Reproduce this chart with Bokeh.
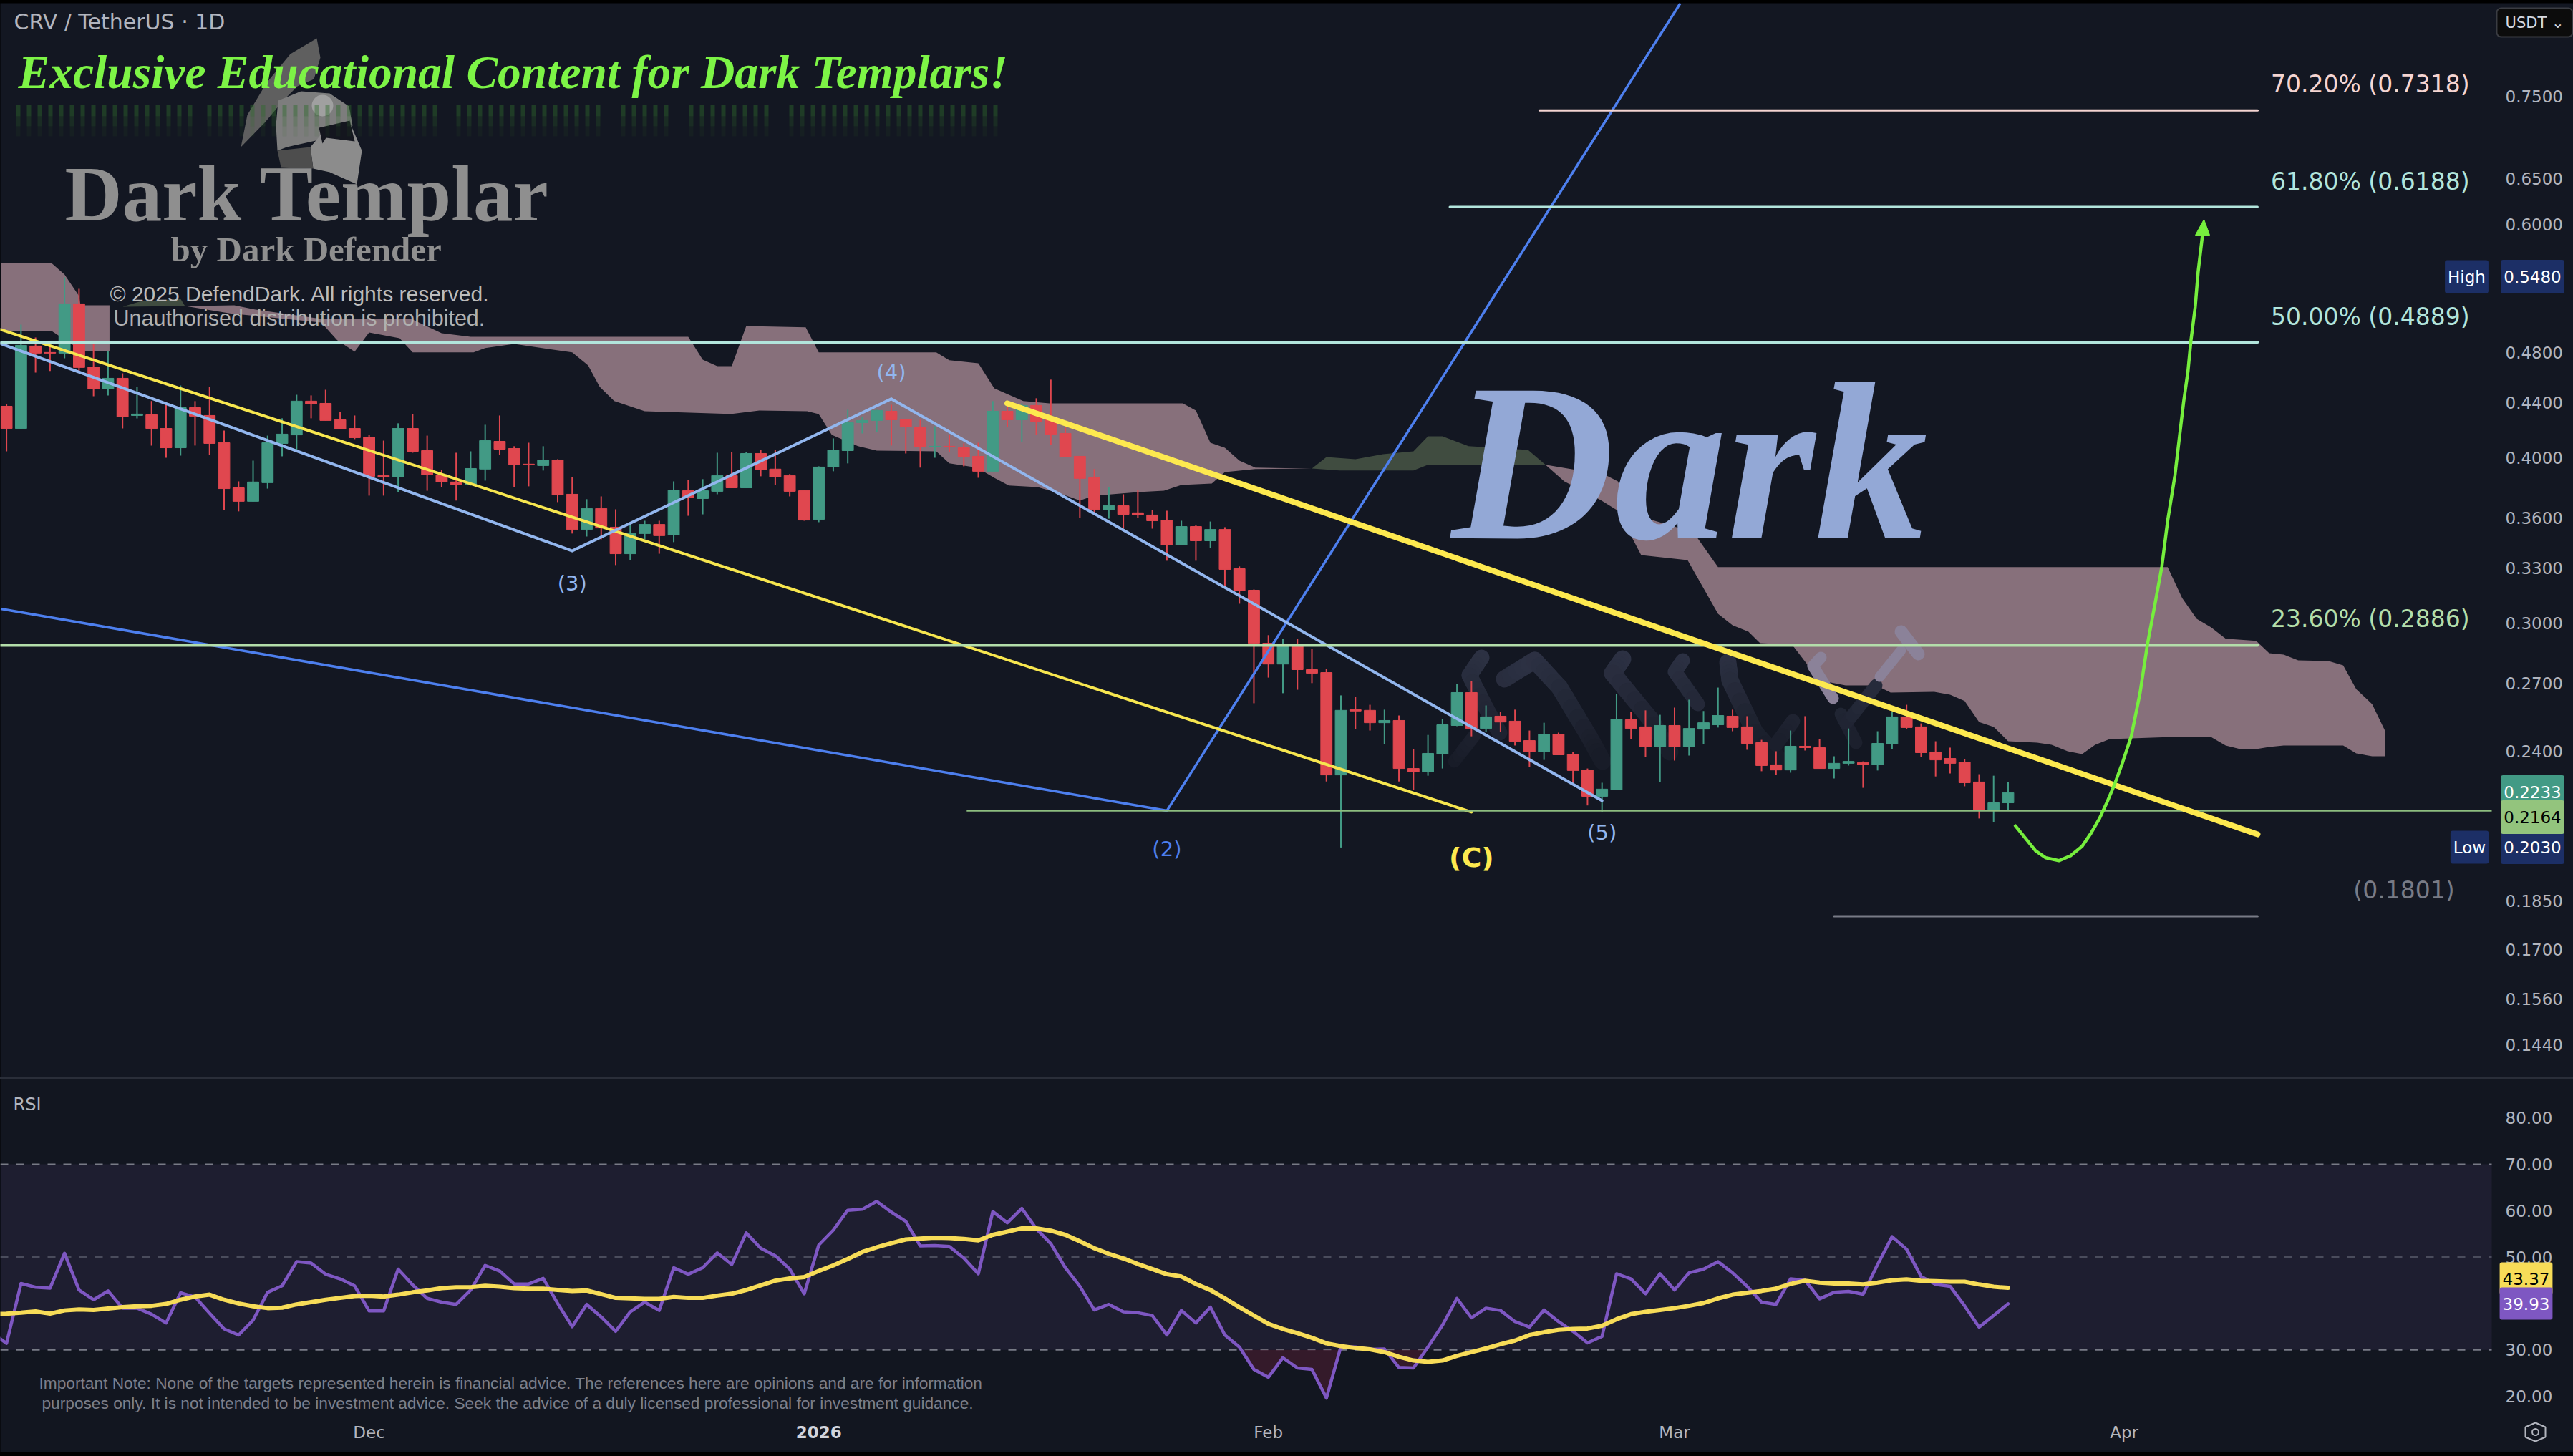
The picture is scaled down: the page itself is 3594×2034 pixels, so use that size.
import math
import numpy as np
from bokeh.plotting import figure
from bokeh.embed import file_html
from bokeh.resources import INLINE
from bokeh.layouts import column
from bokeh.models import Range1d, FixedTicker, PrintfTickFormatter, Label, Div
from bokeh.core.properties import value

# ---------- data ----------
opens = [.4374,.4208,.4857,.4803,.4797,.5227,.4684,.4507,.4592,.4304,
.4309,.4208,.4069,.4363,.4304,.4105,.3795,.3707,.3829,.4100,
.4161,.4413,.4396,.4272,.4208,.4146,.3877,.3867,.4208,.4049,
.3882,.3834,.3814,.3921,.4115,.4064,.3955,.3945,.3984,.3753,
.3530,.3661,.3544,.3384,.3505,.3561,.3496,.3776,.3725,.3772,
.3877,.3795,.4029,.3921,.3877,.3776,.3593,.3935,.4049,.4251,
.4267,.4336,.4277,.4219,.4075,.4080,.4069,.4009,.3906,.4336,
.4272,.4380,.4288,.4172,.4009,.3862,.3652,.3679,.3634,.3620,
.3588,.3436,.3548,.3461,.3530,.3297,.3176,.2896,.2793,.2889,
.2766,.2752,.2303,.2580,.2577,.2522,.2532,.2329,.2315,.2388,
.2510,.2658,.2497,.2551,.2529,.2445,.2397,.2472,.2388,.2323,
.2219,.2244,.2535,.2504,.2418,.2510,.2418,.2494,.2513,.2551,
.2504,.2436,.2344,.2323,.2421,.2415,.2329,.2350,.2353,.2344,
.2430,.2548,.2504,.2397,.2370,.2355,.2275,.2165,.2194]
highs = [.4391,.5041,.4930,.4863,.5473,.5365,.4875,.4815,.4632,.4524,
.4413,.4385,.4535,.4413,.4524,.4193,.3838,.3979,.4156,.4283,
.4462,.4457,.4501,.4331,.4304,.4161,.4120,.4246,.4315,.4156,
.3916,.4034,.4044,.4235,.4304,.4080,.4105,.4080,.3989,.3867,
.3721,.3739,.3656,.3557,.3584,.3584,.3838,.3848,.3853,.4034,
.4039,.4039,.4054,.4054,.3887,.3776,.3940,.4136,.4347,.4293,
.4347,.4385,.4277,.4272,.4224,.4161,.4100,.4105,.4413,.4374,
.4396,.4435,.4581,.4214,.4009,.3921,.3800,.3753,.3781,.3652,
.3647,.3584,.3557,.3579,.3544,.3310,.3180,.2937,.2919,.2919,
.2868,.2769,.2645,.2638,.2602,.2580,.2554,.2409,.2469,.2538,
.2698,.2712,.2599,.2570,.2580,.2488,.2522,.2479,.2397,.2329,
.2272,.2651,.2570,.2577,.2557,.2589,.2625,.2574,.2681,.2580,
.2551,.2448,.2400,.2488,.2551,.2451,.2379,.2497,.2358,.2485,
.2570,.2602,.2519,.2442,.2415,.2367,.2306,.2300,.2274]
lows = [.4044,.4203,.4638,.4650,.4755,.4650,.4451,.4457,.4208,.4283,
.4085,.3999,.4014,.4085,.4019,.3652,.3643,.3707,.3790,.4009,
.4054,.4283,.4267,.4203,.4131,.3744,.3744,.3767,.4034,.3776,
.3800,.3712,.3810,.3843,.4019,.3800,.3805,.3911,.3702,.3505,
.3487,.3470,.3318,.3347,.3470,.3384,.3453,.3615,.3624,.3753,
.3795,.3795,.3872,.3814,.3739,.3584,.3575,.3906,.3960,.4172,
.4183,.4085,.4029,.3931,.3999,.4039,.3940,.3862,.3906,.4219,
.4110,.4161,.4090,.4004,.3602,.3629,.3597,.3535,.3602,.3535,
.3343,.3436,.3343,.3418,.3192,.3102,.2609,.2728,.2655,.2671,
.2702,.2277,.2030,.2494,.2488,.2430,.2277,.2244,.2300,.2329,
.2507,.2463,.2482,.2482,.2424,.2335,.2364,.2385,.2266,.2184,
.2159,.2244,.2451,.2376,.2274,.2361,.2382,.2430,.2501,.2485,
.2406,.2318,.2303,.2312,.2403,.2329,.2289,.2341,.2252,.2321,
.2409,.2494,.2376,.2297,.2309,.2258,.2135,.2121,.2165]
closes = [.4208,.4863,.4797,.4797,.5227,.4679,.4507,.4592,.4293,.4315,
.4208,.4069,.4363,.4299,.4100,.3790,.3707,.3834,.4105,.4167,
.4413,.4391,.4267,.4203,.4141,.3872,.3867,.4208,.4044,.3882,
.3834,.3814,.3925,.4120,.4059,.3950,.3950,.3984,.3748,.3530,
.3661,.3539,.3384,.3505,.3561,.3492,.3781,.3734,.3776,.3877,
.3795,.4029,.3916,.3867,.3772,.3588,.3935,.4054,.4251,.4267,
.4342,.4272,.4219,.4075,.4080,.4075,.4004,.3906,.4336,.4272,
.4380,.4256,.4167,.4004,.3858,.3656,.3679,.3624,.3620,.3584,
.3436,.3548,.3461,.3530,.3293,.3172,.2896,.2793,.2889,.2766,
.2749,.2303,.2577,.2574,.2522,.2532,.2329,.2315,.2391,.2513,
.2658,.2497,.2548,.2525,.2442,.2397,.2472,.2385,.2321,.2219,
.2247,.2538,.2497,.2418,.2510,.2418,.2497,.2522,.2554,.2501,
.2433,.2341,.2323,.2421,.2415,.2329,.2350,.2358,.2344,.2433,
.2548,.2501,.2394,.2364,.2350,.2272,.2165,.2194,.2233]

# RSI and its average: first entry belongs to the day before the first candle
rsi = [33.7,31.4,44.3,43.5,43.3,50.8,42.9,40.8,42.7,39.0,39.0,37.7,35.8,42.3,41.4,37.9,34.5,33.2,36.4,42.4,
43.8,49.0,48.7,46.3,45.3,43.8,38.4,38.4,47.4,44.0,41.1,40.3,39.8,42.9,48.2,47.0,44.2,44.2,45.4,40.0,
35.0,39.8,37.1,34.0,38.2,40.3,38.5,47.7,46.3,47.7,50.9,48.4,55.2,51.9,50.3,47.4,42.1,52.6,55.8,60.1,
60.3,62.0,59.7,57.7,52.4,52.5,52.3,49.8,46.4,59.8,57.4,60.5,56.1,52.9,47.7,43.7,38.6,39.8,38.2,38.0,
37.4,33.2,38.5,35.8,39.2,33.2,30.6,25.8,24.1,28.3,26.1,25.8,19.6,30.7,30.6,30.1,30.2,26.2,26.1,30.6,
35.3,41.1,36.9,39.0,38.5,36.1,34.9,38.6,36.1,34.0,31.5,32.9,46.4,45.3,42.1,46.4,42.9,46.6,47.4,49.0,
46.6,43.7,40.3,39.8,45.3,45.0,41.0,42.4,42.6,42.0,48.4,54.4,51.7,45.8,44.1,43.7,39.5,34.9,37.4,39.93]
rsi_ma = [37.7,37.8,38.0,38.3,37.8,38.5,38.7,38.6,38.9,39.2,39.4,39.5,39.9,40.8,41.5,41.9,40.8,40.0,39.4,39.0,
39.1,39.8,40.3,40.8,41.2,41.6,41.7,41.5,41.9,42.4,42.8,43.3,43.5,43.5,43.8,43.6,43.3,43.2,43.2,42.9,
42.7,42.8,42.0,41.2,41.1,41.0,41.0,41.4,41.2,41.2,41.7,42.1,42.9,43.9,44.9,45.4,45.7,47.0,48.2,49.6,
51.1,52.1,53.0,53.8,54.0,54.2,54.1,53.9,53.6,54.8,55.5,56.2,56.2,55.7,54.8,53.4,51.9,50.7,49.7,48.5,
47.4,46.3,45.8,44.2,42.9,41.1,39.2,37.4,35.6,34.5,33.6,32.6,31.4,30.8,30.4,30.1,29.5,28.5,27.7,27.4,
27.7,28.7,29.5,30.3,31.2,32.0,33.2,33.8,34.3,34.5,34.6,35.2,36.6,37.7,38.2,38.6,39.0,39.5,40.1,41.1,
41.9,42.3,42.7,43.2,44.2,44.9,44.5,44.3,44.3,44.1,44.5,45.0,45.2,44.9,44.8,44.7,44.7,44.1,43.6,43.37]

# Ichimoku cloud, as outlines: day index and price
cloud_a_x = [-0.4,3.1,4.0,5.0,5.1,7.1,7.1,5.4,4.7,3.1,-0.4]
cloud_a_y = [.5611,.5611,.5501,.5299,.5213,.5213,.4815,.4815,.4857,.4986,.4986]
cloud_b_x = [7.1,8.0,9.2,12.0,12.3,8.0]
cloud_b_y = [.4815,.5201,.5247,.5273,.5207,.5201]
cloud_c_x = [12.3,12.9,15.7,17.1,21.7,27.9,30.0,32.0,47.0,48.0,49.0,50.0,51.0,55.1,56.0,64.1,65.0,67.0,68.1,70.1,71.9,81.1,82.0,83.0,84.0,85.0,86.1,90.0,
             90.0,86.1,84.0,83.1,81.0,79.8,78.0,75.0,74.0,72.8,71.1,69.1,68.1,66.9,65.0,64.1,60.0,58.7,56.9,56.0,55.2,51.9,49.9,44.0,41.9,40.9,40.1,39.0,35.0,33.0,32.2,28.0,27.1,25.0,24.0,22.8,21.7,15.4]
cloud_c_y = [.5207,.5207,.5213,.5176,.5092,.5092,.4967,.4936,.4936,.4743,.4690,.4690,.5029,.5017,.4803,.4803,.4738,.4714,.4513,.4413,.4396,.4396,.4342,.4105,.4069,.3979,.3931,.3925,
             .3925,.3921,.3901,.3824,.3814,.3776,.3767,.3744,.3712,.3753,.3800,.3810,.3862,.3931,.3960,.4044,.4049,.4080,.4161,.4315,.4336,.4342,.4315,.4336,.4413,.4524,.4696,.4803,.4875,.4839,.4803,.4803,.4924,.4973,.4809,.4906,.5060,.5141]
cloud_d_x = [90.0,91.0,93.0,94.9,97.0,98.0,99.0,100.8,104.9,106.1,98.0,97.0,91.9]
cloud_d_y = [.3925,.4004,.3989,.4024,.4044,.4151,.4151,.4080,.4054,.3950,.3950,.3911,.3911]
cloud_e_x = [106.1,110.2,111.1,112.1,113.3,116.3,118.0,149.0,150.0,151.0,152.0,153.0,155.1,156.0,157.0,158.0,160.1,161.1,162.0,163.1,164.0,
             164.0,163.1,162.0,161.1,157.0,156.0,155.1,154.0,153.0,152.0,149.0,146.5,145.0,144.0,143.1,142.1,141.0,140.0,138.0,137.0,136.0,135.0,134.0,132.9,129.9,128.9,126.8,125.0,123.1,120.9,120.1,119.0,118.0,115.9,112.7,111.1,109.9,107.4]
cloud_e_y = [.3950,.3882,.3838,.3593,.3593,.3513,.3306,.3306,.3133,.3022,.2977,.2919,.2908,.2846,.2839,.2811,.2808,.2787,.2674,.2605,.2485,
             .2379,.2379,.2391,.2424,.2424,.2418,.2409,.2409,.2424,.2460,.2460,.2454,.2451,.2427,.2388,.2400,.2427,.2436,.2442,.2504,.2525,.2619,.2648,.2661,.2658,.2691,.2691,.2715,.2889,.2896,.2955,.2988,.3048,.3347,.3376,.3647,.3716,.3838]

# Fibonacci levels and where each begins (day index)
fib_prices = [.7318,.6188,.4889,.2886,.1801]
fib_starts = [105.7,99.5,-0.4,-0.4,126.0]
fib_end = 155.2
fib_colors = ["#f5d5d2","#b2e5dc","#b2e5dc","#b3deaa","#787b86"]
fib_labels = ["70.20% (0.7318)","61.80% (0.6188)","50.00% (0.4889)","23.60% (0.2886)","(0.1801)"]
support_price = .2164
support_start = 66.2

wave_x = [-0.4,39.0,61.0,110.0]
wave_y = [.4877,.3401,.4430,.2202]
thin_yellow_x = [-0.4,101.0]
thin_yellow_y = [.4998,.2159]
thick_yellow_x = [69.0,155.2]
thick_yellow_y = [.4396,.2077]
blue_x = [-0.4,80.0,115.4]
blue_y = [.3075,.2164,.8818]
arrow_x = [138.5,139.3,139.9,140.6,141.5,142.3,143.1,143.7,144.3,144.8,145.3,145.9,146.5,147.1,147.6,148.1,148.6,149.0,149.5,149.8,150.1,150.4,150.6,150.9,151.1,151.4]
arrow_y = [.2108,.2056,.2018,.1994,.1984,.2001,.2034,.2080,.2135,.2194,.2260,.2355,.2466,.2658,.2889,.3090,.3310,.3584,.3877,.4136,.4407,.4650,.4899,.5201,.5527,.5892]

price_ticks = [.75,.65,.60,.54,.48,.44,.40,.36,.33,.30,.27,.24,.20,.185,.17,.156,.144]
rsi_ticks = [20,30,40,50,60,70,80]
month_ticks = {25:"Dec",87:"Feb",115:"Mar",146:"Apr"}

# ---------- helpers for drawing-tool decorations placed on the panes ----------
def X(px): return (px-8.6)/20.26
def P(y): return 0.75*math.exp(-(y-134)/803)
def R(y): return 30+(1885.2-y)/6.48

BG="#131722"
BG2="#121620"
GREEN="#429a85"; RED="#e0474f"
UI="DejaVu Sans"
PANE_RIGHT=X(3480)

p = figure(width=3594,height=1501,x_range=Range1d(X(0),X(3594)),y_range=Range1d(P(1505),P(4)),
           y_axis_type="log",y_axis_location="right",x_axis_location=None,
           output_backend="svg",toolbar_location=None,min_border_left=0,min_border_top=0,min_border_bottom=0,min_border_right=0,
           background_fill_color=BG,border_fill_color=BG,outline_line_color=None)
p.grid.visible=False
ax=p.yaxis[0]
ax.ticker=FixedTicker(ticks=price_ticks)
ax.formatter=PrintfTickFormatter(format="%.4f")
ax.axis_line_color=None; ax.major_tick_line_color=None; ax.minor_tick_line_color=None
ax.major_tick_in=0; ax.major_tick_out=0; ax.minor_tick_out=0; ax.minor_tick_in=0
ax.major_label_standoff=-95
ax.major_label_text_font=UI; ax.major_label_text_font_size="23px"; ax.major_label_text_color="#b2b5be"

# cloud
for cx,cy,c in [(cloud_a_x,cloud_a_y,"#87707b"),(cloud_b_x,cloud_b_y,"#404c40"),(cloud_c_x,cloud_c_y,"#87707b"),
                (cloud_d_x,cloud_d_y,"#404c40"),(cloud_e_x,cloud_e_y,"#87707b")]:
    p.patch(cx,cy,fill_color=c,line_color=None)

# mirrored "Dark" shadow strokes, fading downward
def fade(y, top_col, y0=900., y1=1080.):
    t=min(max((y-y0)/(y1-y0),0),1)
    r0,g0,b0=top_col
    r1,g1,b1=(0x15,0x19,0x24)
    return "#%02x%02x%02x"%(int(r0+(r1-r0)*t),int(g0+(g1-g0)*t),int(b0+(b1-b0)*t))
for pts,c,w in [([(2069,918),(2052,943),(2076,990),(2094,1023)],(0x30,0x35,0x48),22),
                ([(2101,948),(2143,922),(2178,960),(2220,1030),(2238,1063)],(0x30,0x35,0x48),24),
                ([(2266,920),(2252,940),(2304,1003),(2332,1050)],(0x30,0x35,0x48),24),
                ([(2350,922),(2339,938),(2371,983)],(0x30,0x35,0x48),20),
                ([(2413,925),(2416,950),(2451,1023),(2487,1063)],(0x30,0x35,0x48),24),
                ([(2504,1007),(2480,1040)],(0x30,0x35,0x48),20),
                ([(2031,1063),(2059,1027)],(0x30,0x35,0x48),18),
                ([(2571,997),(2592,1037)],(0x30,0x35,0x48),18),
                ([(2578,1010),(2620,957)],(0x30,0x35,0x48),18)]:
    for (a0,b0),(a1,b1) in zip(pts[:-1],pts[1:]):
        for k in range(5):
            t0,t1=k/5,(k+1)/5
            xa,ya,xb,yb=a0+(a1-a0)*t0,b0+(b1-b0)*t0,a0+(a1-a0)*t1,b0+(b1-b0)*t1
            p.line([X(xa),X(xb)],[P(ya),P(yb)],line_color=fade((ya+yb)/2,c),line_width=w,line_cap="round")
for pts,c,w in [([(2543,918),(2532,930),(2560,975)],"#8b8299",16),
                ([(2655,882),(2679,913)],"#8b8299",18),
                ([(2655,908),(2625,945)],"#8b8299",14)]:
    p.line([X(a) for a,b in pts],[P(b) for a,b in pts],line_color=c,line_width=w,line_cap="round",line_join="round")

# candles
idx=np.arange(len(opens))
o=np.array(opens);h=np.array(highs);l=np.array(lows);c_=np.array(closes)
up=c_>=o
for mask,col in [(up,GREEN),(~up,RED)]:
    p.segment(idx[mask],h[mask],idx[mask],l[mask],line_color=col,line_width=2)
    p.vbar(x=idx[mask],top=np.maximum(o,c_)[mask],bottom=np.minimum(o,c_)[mask],width=0.78,fill_color=col,line_color=col,line_width=1)

# drawing tools
p.line(blue_x,blue_y,line_color="#4d7fee",line_width=3.5)
p.line(thin_yellow_x,thin_yellow_y,line_color="#f7e64f",line_width=4,line_cap="round")
p.line(wave_x,wave_y,line_color="#92b6ee",line_width=4,line_join="miter",line_cap="round")
for fp,fs,fc in zip(fib_prices,fib_starts,fib_colors):
    p.line([fs,fib_end],[fp,fp],line_color=fc,line_width=4 if fp not in (.7318,.6188,.1801) else 3,line_cap="round")
p.line([support_start,PANE_RIGHT],[support_price,support_price],line_color="#8dbd7f",line_width=2.5)
p.line(thick_yellow_x,thick_yellow_y,line_color="#fde94f",line_width=8,line_cap="round")
p.line(arrow_x,arrow_y,line_color="#76ee3d",line_width=4.5,line_cap="round",line_join="round")
p.patch([X(3078),X(3066),X(3086)],[P(306),P(328),P(328)],fill_color="#76ee3d",line_color="#76ee3d")

def T(fig,x,y,text,font,size,color,style="normal",align="left",baseline="middle",alpha=1):
    fig.text(x=[x],y=[y],text=[text],text_font=value(font),text_font_size=f"{size}px",text_color=color,
             text_font_style=style,text_align=align,text_baseline=baseline,text_alpha=alpha)

# wave labels
T(p,80,P(1185),"(2)",UI,29,"#4d7fee",align="center")
T(p,39,P(814),"(3)",UI,29,"#92b6ee",align="center")
T(p,61,P(519),"(4)",UI,29,"#92b6ee",align="center")
T(p,110,P(1162),"(5)",UI,29,"#92b6ee",align="center")
T(p,101,P(1197),"(C)",UI,38,"#fde94f",style="bold",align="center")

# fib labels
for fp,lab,fc,yy in zip(fib_prices,fib_labels,fib_colors,[117,253,442,864,1243]):
    col="#787b86" if lab.startswith("(0.1801") else fc
    T(p,X(3449) if col!="#787b86" else X(3428),P(yy),lab,UI,33,col,align="right")

# helmet
for pts,col in [([(442,53),(447,80),(438,110),(415,120),(395,140),(370,170),(336,205),(345,160),(372,115),(405,75)],"#5f5f5f"),
                ([(388,140),(420,127),(460,130),(487,148),(492,175),(455,178),(445,195),(400,205),(387,210),(385,175)],"#7d7d7d"),
                ([(490,175),(505,210),(498,257),(460,240),(437,235),(433,205),(450,185)],"#8c8c8c"),
                ([(387,210),(433,205),(437,235),(392,233)],"#4d4d4d"),
                ([(445,178),(488,168),(495,197),(455,192),(450,200)],"#14161e")]:
    p.patch([X(a) for a,b in pts],[P(b) for a,b in pts],fill_color=col,line_color=None)
p.scatter([X(450)],[P(147)],size=30,fill_color="#c4c4c4",fill_alpha=.5,line_color=None)

# faint mirror band under the title
for x0,x1 in [(25,270),(292,620),(640,850),(870,945),(965,1085),(1105,1405)]:
    xs=np.arange(x0,x1,15)
    for y0,y1,a in [(146,162,.45),(162,176,.25),(176,190,.1)]:
        p.segment([X(v) for v in xs],[P(y0)]*len(xs),[X(v) for v in xs],[P(y1)]*len(xs),line_color="#2f6b2c",line_width=6,line_alpha=a)

# watermark texts
T(p,X(25),P(100),"Exclusive Educational Content for Dark Templars!","Liberation Serif",65.5,"#7df446",style="bold italic")
T(p,X(90),P(270),"Dark Templar","Liberation Serif",111,"#8f8f8f",style="bold")
T(p,X(238),P(348),"by Dark Defender","Liberation Serif",49,"#8f8f8f",style="bold")
T(p,X(153),P(410),"© 2025 DefendDark. All rights reserved.","Liberation Sans",30,"#bcbcbc")
T(p,X(158),P(443),"Unauthorised distribution is prohibited.","Liberation Sans",30.5,"#b0b0b0")
T(p,X(2027),P(645),"Dark","Liberation Serif",315,"#93a8d6",style="bold italic")
T(p,X(19),P(30),"CRV / TetherUS · 1D",UI,30,"#b2b5be")

def tag(fig,x,y,text,bg,fg="#ffffff",pad=(4,15),size=23,radius=3):
    fig.add_layout(Label(x=x,y=y,text=text,text_font=UI,text_font_size=f"{size}px",text_color=fg,
                         text_align="center",text_baseline="middle",background_fill_color=bg,padding=pad,border_radius=radius))

tag(p,X(3537),P(386),"0.5480","#1c2f66")
tag(p,X(3445),P(386),"High","#1c2f66",pad=(4,10))
tag(p,X(3537),P(1183),"0.2030","#1c2f66")
tag(p,X(3449),P(1183),"Low","#1c2f66",pad=(4,10))
tag(p,X(3537),P(1106),"0.2233",GREEN)
tag(p,X(3537),P(1141),"0.2164","#93c47d",fg="#000000")
p.add_layout(Label(x=X(3540),y=P(31),text="USDT ⌄",text_font=UI,text_font_size="21px",text_color="#d8dae0",text_align="center",text_baseline="middle",
                   background_fill_color="#0c0c0c",border_line_color="#3a3c42",border_line_width=2,padding=(12,8),border_radius=6))

# ---------- RSI pane ----------
q = figure(width=3594,height=521,x_range=p.x_range,y_range=Range1d(R(2028),R(1507)),
           y_axis_location="right",output_backend="svg",toolbar_location=None,
           min_border_left=0,min_border_top=0,min_border_bottom=0,min_border_right=0,
           background_fill_color=BG2,border_fill_color=BG2,outline_line_color=None)
q.grid.visible=False
ay=q.yaxis[0]
ay.ticker=FixedTicker(ticks=rsi_ticks)
ay.formatter=PrintfTickFormatter(format="%.2f")
ay.axis_line_color=None; ay.major_tick_line_color=None; ay.minor_tick_line_color=None
ay.major_tick_in=0; ay.major_tick_out=0; ay.minor_tick_in=0; ay.minor_tick_out=0
ay.major_label_standoff=-95
ay.major_label_text_font=UI; ay.major_label_text_font_size="23px"; ay.major_label_text_color="#b2b5be"
ax2=q.xaxis[0]
ax2.ticker=FixedTicker(ticks=list(month_ticks))
ax2.major_label_overrides=dict(month_ticks)
ax2.axis_line_color=None; ax2.major_tick_line_color=None; ax2.minor_tick_line_color=None
ax2.major_tick_in=0; ax2.major_tick_out=0; ax2.minor_tick_in=0; ax2.minor_tick_out=0
ax2.major_label_standoff=-41
ax2.major_label_text_font=UI; ax2.major_label_text_font_size="23px"; ax2.major_label_text_color="#b2b5be"

q.quad(left=[X(0)],right=[PANE_RIGHT],bottom=[30],top=[70],fill_color="#1e1e30",line_color=None)
for lv,col in [(70,"#787b86"),(50,"#4a4c5c"),(30,"#787b86")]:
    q.line([X(0),PANE_RIGHT],[lv,lv],line_color=col,line_width=2,line_dash="11 11")
rx=np.arange(-1,len(rsi)-1)
ra=np.array(rsi)
q.varea(rx,np.full(len(ra),30.0),np.minimum(ra,30.0),fill_color="#3d1b2d",fill_alpha=.8)
q.line(rx,rsi,line_color="#7e57c2",line_width=4.5,line_join="round",line_cap="round")
q.line(rx,rsi_ma,line_color="#f7dc58",line_width=6,line_join="round",line_cap="round")

T(q,X(18),R(1542),"RSI",UI,24,"#b2b5be")
T(q,X(54),R(1931),"Important Note: None of the targets represented herein is financial advice. The references here are opinions and are for information","Liberation Sans",22.7,"#7c7f8a")
T(q,X(58),R(1959),"purposes only. It is not intended to be investment advice. Seek the advice of a duly licensed professional for investment guidance.","Liberation Sans",22.7,"#7c7f8a")
T(q,56,R(2000),"2026",UI,23,"#d1d4dc",style="bold",align="center")

tag(q,X(3528),R(1785.5),"43.37","#f7dc58",fg="#000000",pad=(4,14))
tag(q,X(3528),R(1820.5),"39.93","#7e57c2",pad=(4,14))

# settings cog in the corner of the time scale
hx=[3541,3555,3555,3541,3527,3527]; hy=[1987,1993,2007,2013,2007,1993]
q.patch([X(a) for a in hx],[R(b) for b in hy],fill_alpha=0,line_color="#b2b5be",line_width=2)
q.scatter([X(3541)],[R(2000)],size=9,fill_alpha=0,line_color="#b2b5be",line_width=2)

top_band=Div(width=3594,height=4,margin=0,styles={"background-color":"#000000"})
sep=Div(width=3594,height=2,margin=0,styles={"background-color":"#2a2e39"})
root=column(top_band,p,sep,q,spacing=0)

html=file_html(root,INLINE,"CRV / TetherUS")
html=html.replace("<head>","<head><style>html,body{margin:0;padding:0;background:#000000;}</style>",1)
open("out.html","w").write(html)
